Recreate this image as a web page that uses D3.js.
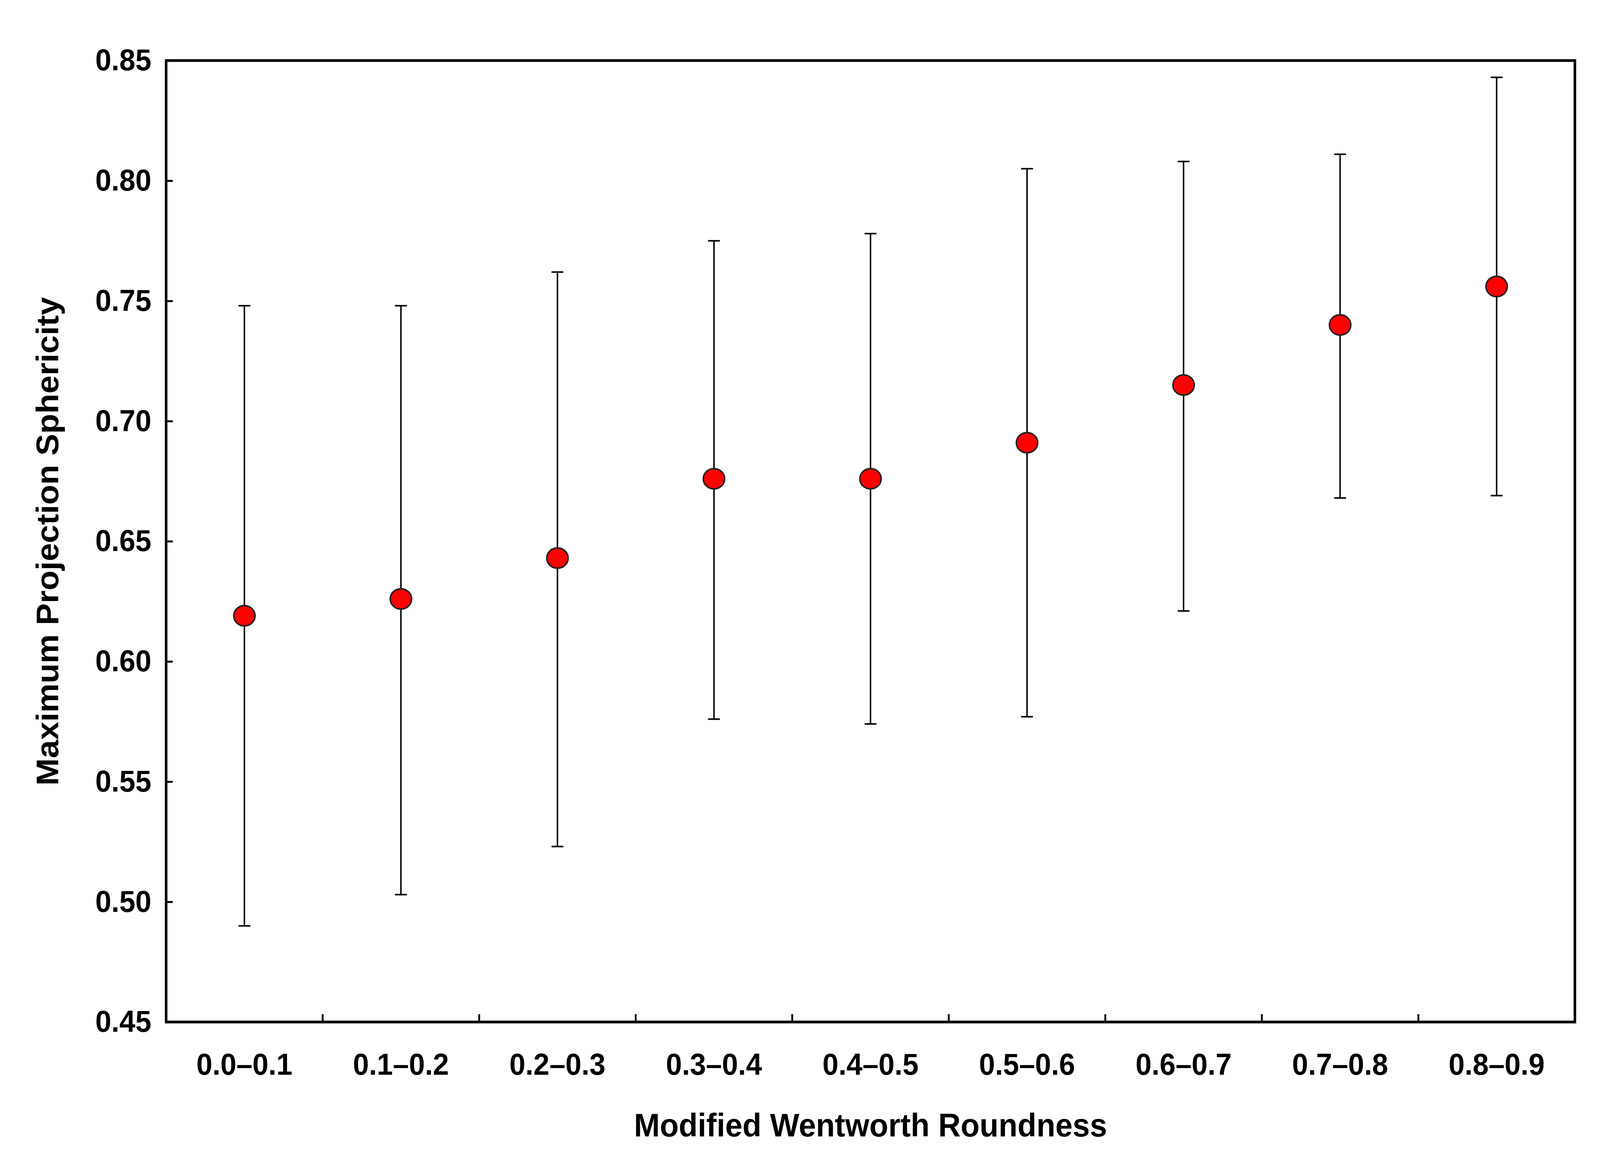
<!DOCTYPE html>
<html>
<head>
<meta charset="utf-8">
<script src="https://cdn.jsdelivr.net/npm/d3@7"></script>
<style>
  html, body { margin: 0; padding: 0; background: #fff; overflow: hidden; width: 100vw; height: 100vh; }
  svg { display: block; }
  text { font-family: "Liberation Sans", Arial, sans-serif; font-weight: bold; }
</style>
</head>
<body>
<div id="chart"></div>
<script>
const categories = ["0.0–0.1", "0.1–0.2", "0.2–0.3", "0.3–0.4", "0.4–0.5", "0.5–0.6", "0.6–0.7", "0.7–0.8", "0.8–0.9"];
const means = [0.619, 0.626, 0.643, 0.676, 0.676, 0.691, 0.715, 0.740, 0.756];
const upper = [0.748, 0.748, 0.762, 0.775, 0.778, 0.805, 0.808, 0.811, 0.843];
const lower = [0.490, 0.503, 0.523, 0.576, 0.574, 0.577, 0.621, 0.668, 0.669];
const yTicks = [0.45, 0.50, 0.55, 0.60, 0.65, 0.70, 0.75, 0.80, 0.85];

const dimensions = {
  width: 4334,
  height: 2955,
  margin: { top: 155, right: 68, bottom: 338, left: 450 },
};
dimensions.boundedWidth = dimensions.width - dimensions.margin.left - dimensions.margin.right;
dimensions.boundedHeight = dimensions.height - dimensions.margin.top - dimensions.margin.bottom;

const data = categories.map((c, i) => ({ cat: c, mean: means[i], hi: upper[i], lo: lower[i] }));

const svg = d3.select("#chart").append("svg")
  .attr("viewBox", `0 0 ${dimensions.width} ${dimensions.height}`)
  .attr("preserveAspectRatio", "none")
  .style("width", "100vw")
  .style("height", "100vh");

const bounds = svg.append("g")
  .attr("transform", `translate(${dimensions.margin.left},${dimensions.margin.top})`);

const xScale = d3.scaleBand().domain(categories).range([0, dimensions.boundedWidth]);
const yScale = d3.scaleLinear().domain([0.45, 0.85]).range([dimensions.boundedHeight, 0]);
const xc = (d) => xScale(d.cat) + xScale.bandwidth() / 2;

// y axis ticks + labels
const yAxis = bounds.append("g")
  .call(d3.axisLeft(yScale).tickValues(yTicks).tickFormat(d3.format(".2f")).tickSize(-18).tickPadding(40));
yAxis.select(".domain").remove();
yAxis.selectAll("line").attr("stroke", "#000").attr("stroke-width", 5);
yAxis.selectAll("text").attr("font-size", 78).attr("fill", "#000");

// x axis: ticks at band boundaries
const xAxis = bounds.append("g").attr("transform", `translate(0,${dimensions.boundedHeight})`);
xAxis.selectAll("line.tk").data(categories.slice(1)).join("line")
  .attr("x1", (c) => xScale(c)).attr("x2", (c) => xScale(c))
  .attr("y1", 0).attr("y2", -20)
  .attr("stroke", "#000").attr("stroke-width", 5);
xAxis.selectAll("text").data(categories).join("text")
  .attr("x", (c) => xScale(c) + xScale.bandwidth() / 2)
  .attr("y", 135)
  .attr("text-anchor", "middle")
  .attr("font-size", 78)
  .text((c) => c);

// frame
bounds.append("rect")
  .attr("width", dimensions.boundedWidth)
  .attr("height", dimensions.boundedHeight)
  .attr("fill", "none").attr("stroke", "#000").attr("stroke-width", 7);

// error bars
const bars = bounds.append("g").attr("stroke", "#000").attr("stroke-width", 4);
bars.selectAll("line.v").data(data).join("line")
  .attr("x1", xc).attr("x2", xc)
  .attr("y1", (d) => yScale(d.hi)).attr("y2", (d) => yScale(d.lo));
bars.selectAll("line.t").data(data).join("line")
  .attr("x1", (d) => xc(d) - 16).attr("x2", (d) => xc(d) + 16)
  .attr("y1", (d) => yScale(d.hi)).attr("y2", (d) => yScale(d.hi));
bars.selectAll("line.b").data(data).join("line")
  .attr("x1", (d) => xc(d) - 16).attr("x2", (d) => xc(d) + 16)
  .attr("y1", (d) => yScale(d.lo)).attr("y2", (d) => yScale(d.lo));

// points
bounds.append("g").selectAll("ellipse").data(data).join("ellipse")
  .attr("cx", xc).attr("cy", (d) => yScale(d.mean))
  .attr("rx", 29).attr("ry", 26)
  .attr("fill", "#ff0000").attr("stroke", "#222").attr("stroke-width", 4);

// axis titles
svg.append("text")
  .attr("x", dimensions.margin.left + dimensions.boundedWidth / 2)
  .attr("y", 2910)
  .attr("text-anchor", "middle")
  .attr("font-size", 84)
  .text("Modified Wentworth Roundness");

svg.append("text")
  .attr("transform", `translate(158,${dimensions.margin.top + dimensions.boundedHeight / 2}) rotate(-90)`)
  .attr("text-anchor", "middle")
  .attr("font-size", 84)
  .text("Maximum Projection Sphericity");
</script>
</body>
</html>
